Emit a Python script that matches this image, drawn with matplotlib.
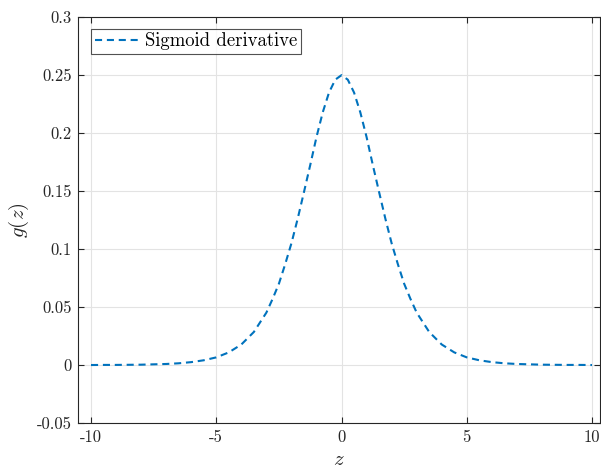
import matplotlib
matplotlib.use("Agg")
import matplotlib.pyplot as plt

plt.rcParams['font.family'] = ['cmr10', 'DejaVu Serif']
plt.rcParams['mathtext.fontset'] = 'cm'
plt.rcParams['axes.unicode_minus'] = False

# sampled sigmoid derivative values (denser around the peak)
z = [-10, -9.5, -9, -8.5, -8, -7.5, -7, -6.5, -6, -5.5, -5, -4.5, -4, -3.5, -3,
     -2.75, -2.5, -2.25, -2, -1.75, -1.5, -1.25, -1, -0.75, -0.5, -0.25, 0,
     0.25, 0.5, 0.75, 1, 1.25, 1.5, 1.75, 2, 2.25, 2.5, 2.75, 3,
     3.5, 4, 4.5, 5, 5.5, 6, 6.5, 7, 7.5, 8, 8.5, 9, 9.5, 10]
g = [0.0000, 0.0001, 0.0001, 0.0002, 0.0003, 0.0006, 0.0009, 0.0015, 0.0025,
     0.0041, 0.0066, 0.0109, 0.0177, 0.0285, 0.0452,
     0.0571, 0.0701, 0.0869, 0.1050, 0.1262, 0.1491, 0.1724, 0.1966, 0.2179,
     0.2350, 0.2461, 0.2500,
     0.2461, 0.2350, 0.2179, 0.1966, 0.1724, 0.1491, 0.1262, 0.1050, 0.0869,
     0.0701, 0.0571, 0.0452,
     0.0285, 0.0177, 0.0109, 0.0066, 0.0041, 0.0025, 0.0015, 0.0009, 0.0006,
     0.0003, 0.0002, 0.0001, 0.0001, 0.0000]

xticks = [-10, -5, 0, 5, 10]
xtick_labels = ['-10', '-5', '0', '5', '10']
yticks = [-0.05, 0, 0.05, 0.1, 0.15, 0.2, 0.25, 0.3]
ytick_labels = ['-0.05', '0', '0.05', '0.1', '0.15', '0.2', '0.25', '0.3']

fig = plt.figure(figsize=(6.01, 4.73), dpi=100)
ax = fig.add_axes([0.1306, 0.1057, 0.867, 0.858])

ax.plot(z, g, color='#0072BD', linestyle='--', dashes=(3.4, 2.3),
        linewidth=1.5, label='Sigmoid derivative')

ax.set_xlim(-10.5, 10.3)
ax.set_ylim(-0.05, 0.3)
ax.set_xticks(xticks)
ax.set_xticklabels(xtick_labels)
ax.set_yticks(yticks)
ax.set_yticklabels(ytick_labels)

ax.grid(True, color='#e3e3e3', linewidth=0.8)
ax.set_axisbelow(True)
for s in ax.spines.values():
    s.set_color('#262626')
    s.set_linewidth(0.8)
ax.tick_params(direction='in', top=True, right=True, length=4, width=0.8,
               color='#262626', labelsize=12, labelcolor='#262626', pad=5)

ax.set_xlabel('$z$', fontsize=15, color='#262626')
ax.set_ylabel('$g(z)$', fontsize=15, color='#262626')

leg = ax.legend(loc='upper left', bbox_to_anchor=(0.024, 0.972), fontsize=13.5,
                frameon=True, fancybox=False, edgecolor='#262626',
                handlelength=2.4, handletextpad=0.3, borderpad=0.2,
                borderaxespad=0)
leg.get_frame().set_linewidth(0.8)

fig.savefig('out.png', dpi=100)
